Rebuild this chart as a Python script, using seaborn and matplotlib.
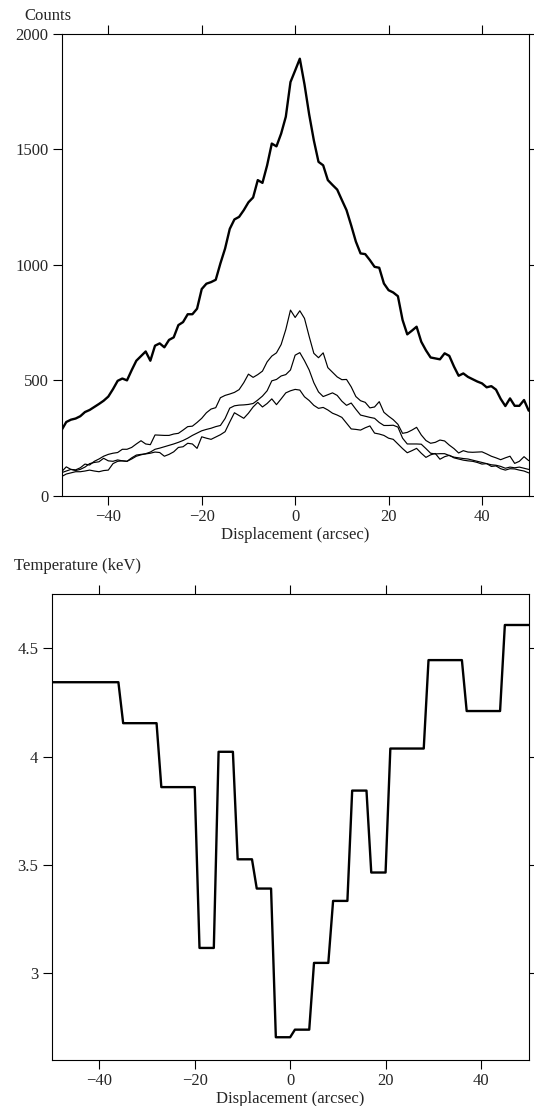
import numpy as np
import pandas as pd
import matplotlib
matplotlib.use("Agg")
import matplotlib.pyplot as plt
from matplotlib.ticker import FuncFormatter
import seaborn as sns

# ---------------- data ----------------
displacement = list(range(-50, 51))  # arcsec sample positions

counts_total = [285, 320, 330, 335, 345, 363, 372, 385, 398, 412,
                430, 462, 498, 508, 500, 544, 585, 605, 625, 585,
                650, 660, 643, 675, 686, 739, 752, 786, 786, 810,
                895, 918, 925, 935, 1006, 1070, 1155, 1196, 1207, 1236,
                1270, 1291, 1366, 1354, 1430, 1524, 1512, 1567, 1640, 1790,
                1840, 1891, 1780, 1650, 1538, 1445, 1430, 1366, 1345, 1325,
                1280, 1236, 1170, 1100, 1049, 1046, 1020, 991, 987, 919,
                890, 880, 864, 761, 699, 715, 732, 667, 630, 599,
                595, 591, 617, 606, 560, 520, 530, 515, 505, 495,
                487, 470, 475, 460, 420, 389, 422, 390, 390, 415, 369]

counts_a = [105, 126, 115, 113, 122, 138, 134, 150, 160, 172,
            180, 185, 188, 202, 202, 210, 225, 239, 225, 222,
            264, 263, 262, 262, 268, 271, 285, 300, 302, 318,
            336, 360, 376, 382, 425, 435, 441, 448, 460, 490,
            527, 513, 525, 540, 580, 605, 619, 655, 720, 804,
            772, 801, 768, 690, 617, 598, 619, 555, 535, 515,
            503, 504, 472, 430, 412, 405, 381, 385, 408, 362,
            345, 330, 310, 271, 275, 285, 297, 264, 240, 228,
            232, 242, 238, 220, 205, 186, 196, 190, 189, 190,
            191, 182, 172, 165, 157, 165, 172, 141, 150, 170, 153]

counts_b = [101, 108, 115, 110, 115, 125, 140, 145, 148, 163,
            152, 150, 156, 152, 150, 160, 172, 178, 183, 190,
            202, 207, 213, 219, 225, 232, 240, 250, 262, 272,
            282, 288, 293, 300, 305, 335, 380, 390, 393, 394,
            396, 400, 415, 432, 455, 498, 504, 519, 525, 545,
            609, 620, 585, 545, 490, 450, 430, 438, 446, 435,
            410, 392, 402, 375, 350, 345, 340, 336, 318, 305,
            305, 306, 298, 250, 225, 225, 225, 224, 205, 185,
            182, 183, 183, 175, 168, 165, 162, 160, 155, 150,
            145, 140, 135, 133, 128, 120, 125, 122, 125, 120, 115]

counts_c = [84, 95, 100, 105, 105, 108, 112, 108, 105, 110,
            112, 140, 150, 152, 150, 165, 177, 180, 182, 185,
            190, 188, 172, 180, 191, 210, 213, 228, 225, 206,
            256, 250, 245, 255, 265, 278, 320, 360, 348, 336,
            358, 385, 405, 385, 400, 420, 395, 420, 446, 455,
            461, 458, 429, 413, 392, 379, 383, 372, 358, 350,
            340, 315, 290, 288, 285, 295, 303, 272, 268, 262,
            250, 245, 225, 205, 187, 196, 206, 185, 167, 178,
            184, 159, 170, 176, 165, 160, 155, 152, 150, 145,
            138, 140, 128, 130, 118, 112, 118, 117, 112, 108, 100]

# temperature bins (arcsec start / end, keV)
bin_start = [-50, -35, -27, -19, -15, -11, -7, -3, 1, 5, 9, 13, 17, 21, 29, 37, 45]
bin_end = [-36, -28, -20, -16, -12, -8, -4, 0, 4, 8, 12, 16, 20, 28, 36, 44, 50]
temperature = [4.343, 4.154, 3.859, 3.117, 4.022, 3.526, 3.391, 2.705, 2.740,
               3.048, 3.334, 3.843, 3.465, 4.037, 4.445, 4.210, 4.607]

count_ticks = [0, 500, 1000, 1500, 2000]
temp_ticks = [3.0, 3.5, 4.0, 4.5]
disp_ticks = [-40, -20, 0, 20, 40]

# ---------------- style ----------------
sns.set_style("ticks")
plt.rcParams['font.family'] = ['Liberation Serif', 'DejaVu Serif']
plt.rcParams['axes.linewidth'] = 0.8
plt.rcParams['axes.edgecolor'] = 'black'

W, H = 534, 1106
fig = plt.figure(figsize=(W / 100, H / 100), dpi=100)

ax1 = fig.add_axes([61.6 / W, 1 - 496 / H, (528.7 - 61.6) / W, (496 - 33.5) / H])
ax2 = fig.add_axes([51.6 / W, 1 - 1060 / H, (528.7 - 51.6) / W, (1060 - 594) / H])

# ---------------- top panel ----------------
df_counts = pd.DataFrame({
    'disp': displacement,
    'total': counts_total,
    'a': counts_a,
    'b': counts_b,
    'c': counts_c,
})
sns.lineplot(data=df_counts, x='disp', y='total', ax=ax1, color='black',
             linewidth=1.7, estimator=None)
for col in ['a', 'b', 'c']:
    sns.lineplot(data=df_counts, x='disp', y=col, ax=ax1, color='black',
                 linewidth=0.85, estimator=None)

ax1.set_xlim(-50, 50)
ax1.set_ylim(0, 2000)
ax1.set_xticks(disp_ticks)
ax1.set_yticks(count_ticks)
ax1.set_xlabel('Displacement (arcsec)', fontsize=12, labelpad=1)
ax1.set_ylabel('')

# ---------------- bottom panel ----------------
xs, ts = [], []
for s, e, t in zip(bin_start, bin_end, temperature):
    xs += [s, e]
    ts += [t, t]
df_temp = pd.DataFrame({'disp': xs, 'temp': ts})
sns.lineplot(data=df_temp, x='disp', y='temp', ax=ax2, color='black',
             linewidth=1.7, estimator=None, sort=False)

ax2.set_xlim(-50, 50)
ax2.set_ylim(2.6, 4.75)
ax2.set_xticks(disp_ticks)
ax2.set_yticks(temp_ticks)
ax2.yaxis.set_major_formatter(FuncFormatter(lambda v, p: f'{v:g}'))
ax2.set_xlabel('Displacement (arcsec)', fontsize=12, labelpad=1)
ax2.set_ylabel('')

for ax in (ax1, ax2):
    for sp in ax.spines.values():
        sp.set_visible(True)
        sp.set_linewidth(0.8)
        sp.set_color('black')
    ax.tick_params(direction='out', length=6.5, width=0.8, top=True, right=True,
                   labeltop=False, labelright=False, labelsize=12, pad=3,
                   color='black')

fig.text(24 / W, 1 - 16 / H, 'Counts', ha='left', va='center', fontsize=12)
fig.text(13.7 / W, 1 - 566 / H, 'Temperature (keV)', ha='left', va='center', fontsize=12)

fig.savefig('out.png', dpi=100)
